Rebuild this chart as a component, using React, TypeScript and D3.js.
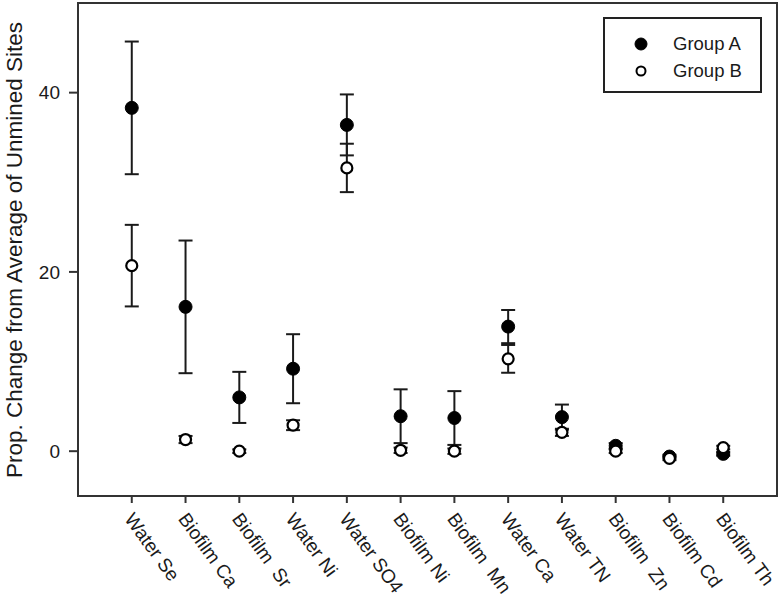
import React from 'react';
import * as d3 from 'd3';

const categories = ['Water Se', 'Biofilm Ca', 'Biofilm  Sr', 'Water Ni', 'Water SO4', 'Biofilm Ni', 'Biofilm  Mn', 'Water Ca', 'Water TN', 'Biofilm  Zn', 'Biofilm Cd', 'Biofilm Th'];
const groupAMean = [38.3, 16.1, 6.0, 9.2, 36.4, 3.9, 3.7, 13.9, 3.8, 0.6, -0.6, -0.3];
const groupAErr = [7.4, 7.4, 2.85, 3.85, 3.4, 3.0, 3.0, 1.85, 1.4, 0.3, 0.2, 0.2];
const groupBMean = [20.7, 1.3, 0.0, 2.9, 31.6, 0.1, 0.0, 10.3, 2.1, 0.0, -0.8, 0.4];
const groupBErr = [4.55, 0.4, 0.2, 0.55, 2.7, 0.3, 0.3, 1.55, 0.4, 0.2, 0.2, 0.2];
const yTicks = [0, 20, 40];
const legendLabels = ['Group A', 'Group B'];

const W = 781;
const H = 600;
const margin = { top: 3, right: 4, bottom: 104, left: 78 };
const font = 'Arial, "Liberation Sans", sans-serif';
const ink = '#1a1a1a';

const App = () => {
  const x = d3.scalePoint<string>()
    .domain(categories)
    .range([margin.left, W - margin.right])
    .padding(1);
  const y = d3.scaleLinear()
    .domain([-5, 50])
    .range([H - margin.bottom, margin.top]);

  const series = [
    { mean: groupAMean, err: groupAErr, filled: true },
    { mean: groupBMean, err: groupBErr, filled: false },
  ];
  const cap = 7;
  const r = 6.5;

  return (
    <svg width={W} height={H} style={{ position: 'absolute', left: 0, top: 0, background: '#fff' }}>
      {/* error bars */}
      {series.map((s, si) => (
        <g key={'e' + si} stroke={ink} strokeWidth={2} fill="none">
          {categories.map((c, i) => {
            const cx = x(c)!;
            const lo = y(s.mean[i] - s.err[i]);
            const hi = y(s.mean[i] + s.err[i]);
            return (
              <g key={c}>
                <line x1={cx} x2={cx} y1={lo} y2={hi} />
                <line x1={cx - cap} x2={cx + cap} y1={lo} y2={lo} />
                <line x1={cx - cap} x2={cx + cap} y1={hi} y2={hi} />
              </g>
            );
          })}
        </g>
      ))}

      {/* markers */}
      {series.map((s, si) => (
        <g key={'m' + si}>
          {categories.map((c, i) => (
            <circle
              key={c}
              cx={x(c)!}
              cy={y(s.mean[i])}
              r={s.filled ? r : r - 1}
              fill={s.filled ? '#000' : '#fff'}
              stroke="#000"
              strokeWidth={s.filled ? 1 : 2.2}
            />
          ))}
        </g>
      ))}

      {/* frame */}
      <rect
        x={margin.left}
        y={margin.top}
        width={W - margin.left - margin.right}
        height={H - margin.top - margin.bottom}
        fill="none"
        stroke="#333"
        strokeWidth={2}
      />

      {/* y axis */}
      {yTicks.map((t) => (
        <g key={t}>
          <line x1={margin.left - 9} x2={margin.left} y1={y(t)} y2={y(t)} stroke="#333" strokeWidth={2} />
          <text x={60} y={y(t)} dy="0.35em" textAnchor="end" fontFamily={font} fontSize={19} fill={ink}>
            {t}
          </text>
        </g>
      ))}
      <text
        transform={`translate(22, 250) rotate(-90)`}
        textAnchor="middle"
        fontFamily={font}
        fontSize={22.5}
        fill={ink}
      >
        Prop. Change from Average of Unmined Sites
      </text>

      {/* x axis */}
      {categories.map((c) => (
        <g key={c}>
          <line x1={x(c)!} x2={x(c)!} y1={H - margin.bottom} y2={H - margin.bottom + 7} stroke="#333" strokeWidth={2} />
          <text
            transform={`translate(${x(c)! - 8}, ${H - margin.bottom + 23}) rotate(54)`}
            textAnchor="start"
            fontFamily={font}
            fontSize={19}
            fill={ink}
            style={{ whiteSpace: 'pre' }}
          >
            {c}
          </text>
        </g>
      ))}

      {/* legend */}
      <g>
        <rect x={604} y={18} width={157} height={74} fill="#fff" stroke="#222" strokeWidth={2} />
        {legendLabels.map((l, i) => (
          <g key={l}>
            <circle
              cx={641}
              cy={44 + i * 27}
              r={i === 0 ? 6 : 4.5}
              fill={i === 0 ? '#000' : '#fff'}
              stroke="#000"
              strokeWidth={i === 0 ? 1 : 2}
            />
            <text x={673} y={44 + i * 27} dy="0.35em" fontFamily={font} fontSize={18.5} fill={ink}>
              {l}
            </text>
          </g>
        ))}
      </g>
    </svg>
  );
};

export default App;
